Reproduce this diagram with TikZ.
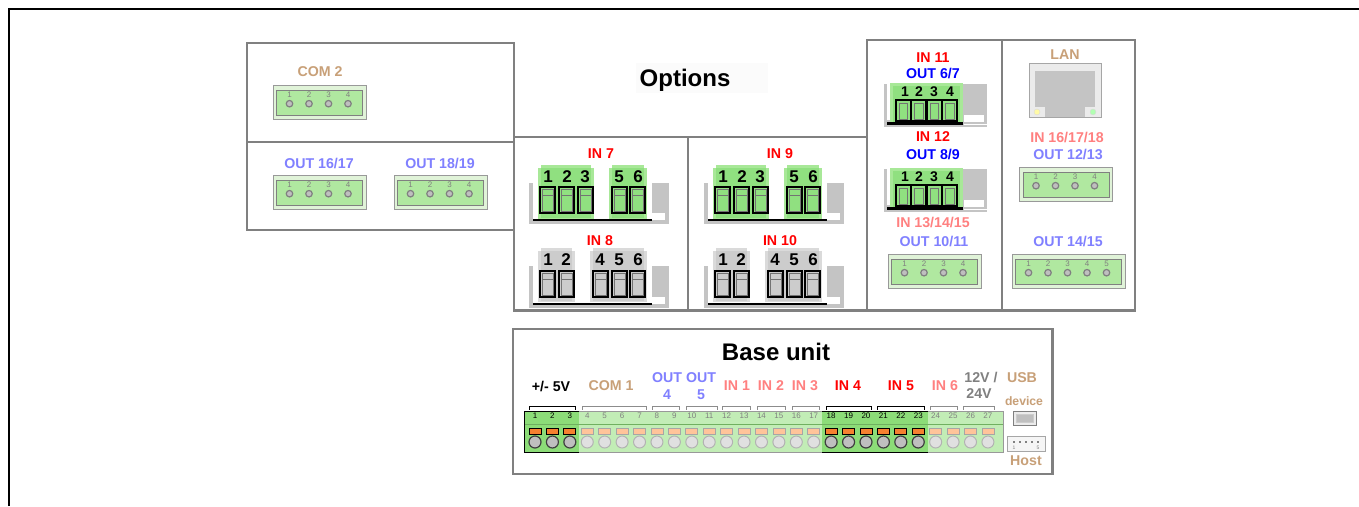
\documentclass[tikz,border=0pt]{standalone}
\usepackage{fontspec}
\setmainfont{Liberation Sans}
\definecolor{panelgray}{HTML}{808080}
\definecolor{lblred}{HTML}{FF0000}
\definecolor{lblpink}{HTML}{FF8080}
\definecolor{lblblue}{HTML}{0000FF}
\definecolor{lblperi}{HTML}{8080FF}
\definecolor{lbltan}{HTML}{C8A078}
\definecolor{connedge}{HTML}{E0F3D8}
\definecolor{conngreen}{HTML}{B0E8A0}
\definecolor{bigmain}{HTML}{90E080}
\definecolor{bigedge}{HTML}{A8E898}
\definecolor{greymain}{HTML}{CCCCCC}
\definecolor{greyedge}{HTML}{DADADA}
\definecolor{backgrey}{HTML}{C4C4C4}
\definecolor{stripdark}{HTML}{8CDC78}
\definecolor{striplight}{HTML}{C2EDB6}
\definecolor{orangedark}{HTML}{F58030}
\definecolor{orangelight}{HTML}{FFC49A}
\tikzset{
  x=1pt,y=-1pt,
  every node/.style={outer sep=0pt},
  panel/.style={draw=panelgray,line width=2.7pt},
  lbl/.style={inner sep=0pt,font=\bfseries\fontsize{14.2}{14.2}\selectfont},
  title/.style={inner sep=0pt,font=\bfseries\fontsize{24}{24}\selectfont},
  pinnum/.style={inner sep=0pt,text=panelgray,font=\fontsize{8}{8}\selectfont},
  bignum/.style={inner sep=0pt,font=\bfseries\fontsize{17}{17}\selectfont},
  quadnum/.style={inner sep=0pt,font=\bfseries\fontsize{14}{14}\selectfont},
  basenum/.style={inner sep=0pt,font=\fontsize{8}{8}\selectfont},
  pinhole/.style={draw=panelgray,fill=lightgray,line width=1.2pt},
  sock/.style={draw=black,line width=1.4pt},
  sockin/.style={draw=black!55,line width=.6pt},
}
% small pluggable connector: name, x, y, number of pins
\newcommand{\smallconn}[4]{%
  \pgfmathsetmacro{\connw}{#4==5 ? 113 : 93}%
  \node[draw=gray!80,line width=1pt,fill=connedge,inner sep=0pt,anchor=north west,minimum width=\connw pt,minimum height=34pt] (#1) at (#2,#3) {};
  \draw[draw=panelgray,line width=1pt,fill=conngreen] (#2+3.5,#3+5) rectangle (#2+\connw-3.5,#3+30);
  \foreach \p in {1,...,#4}{
    \node[pinnum] (#1n\p) at ({#2+16.5+(\p-1)*19.5},#3+10) {\p};
    \node[pinhole,circle,inner sep=0pt,minimum size=6.5pt] (#1p\p) at ({#2+16.5+(\p-1)*19.5},#3+18.7) {};
  }
}
% screw socket
\newcommand{\socket}[4]{%
  \fill[#4] (#1,#2) rectangle (#1+#3,#2+2);
  \draw[sockin,fill=#4] (#1+3,#2+2) rectangle (#1+#3-3,#2+8);
  \draw[sock] (#1+1,#2) rectangle (#1+#3-1,#2+26);
  \draw[sockin] (#1+3,#2+8) -- (#1+3,#2+24) -- (#1+#3-3,#2+24) -- (#1+#3-3,#2+8);
}
% bracket behind a large connector: x, y top, y bottom
\newcommand{\backplate}[3]{%
  \fill[backgrey] (#1,#2) rectangle (#1+140,#3);
  \fill[white] (#1+4,#2) rectangle (#1+123,#3-4);
  \fill[white] (#1+123,#3-11) rectangle (#1+136,#3-4);
  \draw[black,line width=2.5pt] (#1+4,#3-4) -- (#1+123,#3-4);
}
% block: x0 x1 y0 y1 main edge
\newcommand{\block}[6]{%
  \fill[#6] (#1,#3+3) rectangle (#2,#4);
  \fill[#6] (#1+3,#3) rectangle (#2-3,#4);
  \fill[#5] (#1+3,#3+3) rectangle (#2-3,#4-1);
}
% panel of two large connectors at horizontal offset
\newcommand{\twinpair}[1]{%
  \backplate{529+#1}{183}{224}
  \block{538+#1}{594+#1}{165}{219}{bigmain}{bigedge}
  \block{609+#1}{647+#1}{165}{219}{bigmain}{bigedge}
  \foreach \s in {539,558,577,611,629}{\socket{\s+#1}{187}{17}{bigmain}}
  \backplate{529+#1}{266}{308}
  \block{538+#1}{575+#1}{248}{302}{greymain}{greyedge}
  \block{590+#1}{647+#1}{248}{302}{greymain}{greyedge}
  \foreach \s in {539,558,592,611,629}{\socket{\s+#1}{271}{17}{greymain}}
}
% four-way connector at vertical offset
\newcommand{\quadconn}[1]{%
  \fill[backgrey] (884,84+#1) rectangle (987,127+#1);
  \fill[white] (887,84+#1) rectangle (890,120+#1);
  \fill[white] (964,115+#1) rectangle (984,122+#1);
  \fill[white] (964,124+#1) rectangle (987,125+#1);
  \fill[bigedge] (890,83+#1) rectangle (963,123+#1);
  \fill[bigmain] (893,86+#1) rectangle (960,123+#1);
  \draw[black,line width=2.5pt] (887,123.5+#1) -- (963,123.5+#1);
  \foreach \s in {896,911.5,927,942.5}{
    \draw[sock,fill=bigmain] (\s,100+#1) rectangle (\s+14.5,121+#1);
    \draw[sockin] (\s+3,103+#1) rectangle (\s+11.5,119+#1);
  }
}
\begin{document}
\begin{tikzpicture}
\useasboundingbox (0,0) rectangle (1359,506);
\fill[white] (0,0) rectangle (1359,506);
% page frame
\draw[black,line width=2pt] (9,506) -- (9,9) -- (1359,9);
% panels
\node[panel,inner sep=0pt,anchor=north west,minimum width=267pt,minimum height=99pt] (pcom) at (247,43) {};
\node[panel,inner sep=0pt,anchor=north west,minimum width=267pt,minimum height=88pt] (pout) at (247,142) {};
\node[panel,inner sep=0pt,anchor=north west,minimum width=174pt,minimum height=173.5pt] (pleft) at (514,137) {};
\node[panel,inner sep=0pt,anchor=north west,minimum width=179pt,minimum height=173.5pt] (pmid) at (688,137) {};
\node[panel,inner sep=0pt,anchor=north west,minimum width=135pt,minimum height=270.5pt] (pright) at (867,40) {};
\node[panel,inner sep=0pt,anchor=north west,minimum width=133pt,minimum height=270.5pt] (pfar) at (1002,40) {};
\node[panel,inner sep=0pt,anchor=north west,minimum width=539.5pt,minimum height=145pt] (pbase) at (513,329) {};
% titles
\fill[black!1.5] (636,63) rectangle (768,93);
\node[title] (options) at (685,80) {Options};
\node[title] (baseunit) at (776,352) {Base unit};
% top-left
\node[lbl,text=lbltan] (lcom2) at (320,72) {COM 2};
\smallconn{ccom}{273}{85}{4}
\node[lbl,text=lblperi] (lo16) at (319,163) {OUT 16/17};
\node[lbl,text=lblperi] (lo18) at (440,163) {OUT 18/19};
\smallconn{co16}{273}{175}{4}
\smallconn{co18}{394}{175}{4}
% large pairs
\twinpair{0}
\twinpair{175}
\node[lbl,text=lblred] (l7) at (601,154) {IN 7};
\node[lbl,text=lblred] (l8) at (600,241) {IN 8};
\node[lbl,text=lblred] (l9) at (780,154) {IN 9};
\node[lbl,text=lblred] (l10) at (780,241) {IN 10};
\foreach \o in {0,175}{
  \foreach \x/\t in {548/1,567/2,585/3,619/5,638/6}{
    \node[bignum] (nu\o x\x) at (\x+\o,177) {\t};
  }
  \foreach \x/\t in {548/1,566/2,600/4,619/5,638/6}{
    \node[bignum] (nd\o x\x) at (\x+\o,260) {\t};
  }
}
% middle-right column
\node[lbl,text=lblred] (l11) at (933,58) {IN 11};
\node[lbl,text=lblblue] (lo6) at (933,73) {OUT 6/7};
\quadconn{0}
\quadconn{85}
\foreach \d in {0,85}{
  \foreach \x/\t in {905/1,919/2,934/3,950/4}{
    \node[quadnum] (q\d x\x) at (\x,92+\d) {\t};
  }
}
\node[lbl,text=lblred] (l12) at (933,137) {IN 12};
\node[lbl,text=lblblue] (lo8) at (933,154) {OUT 8/9};
\node[lbl,text=lblpink] (l13) at (933,222) {IN 13/14/15};
\node[lbl,text=lblperi] (lo10) at (934,241) {OUT 10/11};
\smallconn{co10}{888}{254}{4}
% far right column
\node[lbl,text=lbltan] (llan) at (1065,55) {LAN};
\node[draw=gray!70,line width=1pt,fill=black!8,inner sep=0pt,anchor=north west,minimum width=72pt,minimum height=54pt] (lan) at (1029,63) {};
\fill[backgrey] (1035,71) rectangle (1095,107);
\fill[backgrey] (1045,107) rectangle (1085,117);
\node[circle,fill=yellow!35,draw=black!15,inner sep=0pt,minimum size=6pt] (ledy) at (1037,112) {};
\node[circle,fill=green!30,draw=black!15,inner sep=0pt,minimum size=6pt] (ledg) at (1093,112) {};
\node[lbl,text=lblpink] (l16) at (1067,137) {IN 16/17/18};
\node[lbl,text=lblperi] (lo12) at (1068,154) {OUT 12/13};
\smallconn{co12}{1019.5}{167}{4}
\node[lbl,text=lblperi] (lo14) at (1068,241) {OUT 14/15};
\smallconn{co14}{1012}{254}{5}
% terminal strip
\fill[striplight] (524,411) rectangle (1003,452);
\fill[stripdark] (524,411) rectangle (578.5,452);
\fill[stripdark] (822,411) rectangle (928,452);
\draw[stripdark!80!black,line width=.6pt] (524,424.5) -- (1003,424.5);
\draw[black!40,line width=.6pt] (524,452) -- (1003,452) -- (1003,411) -- (524,411);
\draw[black,line width=1pt] (524,411) -- (578.5,411) (524,411) -- (524,452) -- (578.5,452);
\draw[black,line width=1pt] (822,411) -- (928,411) (822,452) -- (928,452);
\foreach \n in {1,...,27}{
  \pgfmathsetmacro{\px}{535+(\n-1)*17.42}
  \pgfmathtruncatemacro{\dk}{(\n<=3 || (\n>=18 && \n<=23)) ? 1 : 0}
  \ifnum\dk=1
    \node[basenum,text=black] (tn\n) at (\px,416) {\n};
    \node[draw=black,line width=.8pt,fill=orangedark,inner sep=0pt,minimum width=12pt,minimum height=6pt] (to\n) at (\px,431) {};
    \node[circle,draw=black!75,line width=1.2pt,fill=lightgray,inner sep=0pt,minimum size=12pt] (tp\n) at (\px,442) {};
  \else
    \node[basenum,text=panelgray] (tn\n) at (\px,416) {\n};
    \node[draw=black!35,line width=.6pt,fill=orangelight,inner sep=0pt,minimum width=12pt,minimum height=6pt] (to\n) at (\px,431) {};
    \node[circle,draw=black!30,line width=1pt,fill=black!12,inner sep=0pt,minimum size=12pt] (tp\n) at (\px,442) {};
  \fi
}
% brackets
\foreach \a/\b in {582/646,652/679,686/717,722/750,757/785,792/819,930/957,963/994}{
  \draw[black!45,line width=.7pt] (\a,409.5) -- (\a,406.5) -- (\b,406.5) -- (\b,409.5);
}
\foreach \a/\b in {529/575,826/871,877/924}{
  \draw[black,line width=.8pt] (\a,409.5) -- (\a,406.5) -- (\b,406.5) -- (\b,409.5);
}
% terminal labels
\node[lbl,text=black] (t5v) at (551,386) {+/- 5V};
\node[lbl,text=lbltan] (tcom) at (611,386) {COM 1};
\node[lbl,text=lblperi] (to4a) at (667,378) {OUT};
\node[lbl,text=lblperi] (to4b) at (667,395) {4};
\node[lbl,text=lblperi] (to5a) at (701,378) {OUT};
\node[lbl,text=lblperi] (to5b) at (701,395) {5};
\node[lbl,text=lblpink] (ti1) at (737,386) {IN 1};
\node[lbl,text=lblpink] (ti2) at (771,386) {IN 2};
\node[lbl,text=lblpink] (ti3) at (805,386) {IN 3};
\node[lbl,text=lblred] (ti4) at (848,386) {IN 4};
\node[lbl,text=lblred] (ti5) at (901,386) {IN 5};
\node[lbl,text=lblpink] (ti6) at (945,386) {IN 6};
\node[lbl,text=panelgray] (tv1) at (981,377) {12V /};
\node[lbl,text=panelgray] (tv2) at (979,394) {24V};
\node[lbl,text=lbltan] (tusb) at (1022,378) {USB};
\node[lbl,text=lbltan,font=\bfseries\fontsize{12.2}{12.2}\selectfont] (tdev) at (1024,401) {device};
\node[draw=panelgray,line width=1pt,fill=black!8,inner sep=0pt,anchor=north west,minimum width=23pt,minimum height=14pt] (usbd) at (1013,411) {};
\node[draw=black!20,fill=lightgray,line width=.5pt,inner sep=0pt,minimum width=17pt,minimum height=8pt] (usbi) at (usbd.center) {};
\node[draw=black!35,line width=1pt,fill=black!4,inner sep=0pt,anchor=north west,minimum width=38pt,minimum height=15pt] (host) at (1007,436) {};
\foreach \h in {1,...,5}{
  \node[fill=black!50,inner sep=0pt,minimum size=2pt] (hd\h) at ({1014+(\h-1)*6},441.5) {};
}
\node[pinnum,font=\fontsize{5}{5}\selectfont] (h1) at (1014,448) {1};
\node[pinnum,font=\fontsize{5}{5}\selectfont] (h5) at (1038,448) {5};
\node[lbl,text=lbltan] (thost) at (1026,461) {Host};
\end{tikzpicture}
\end{document}
